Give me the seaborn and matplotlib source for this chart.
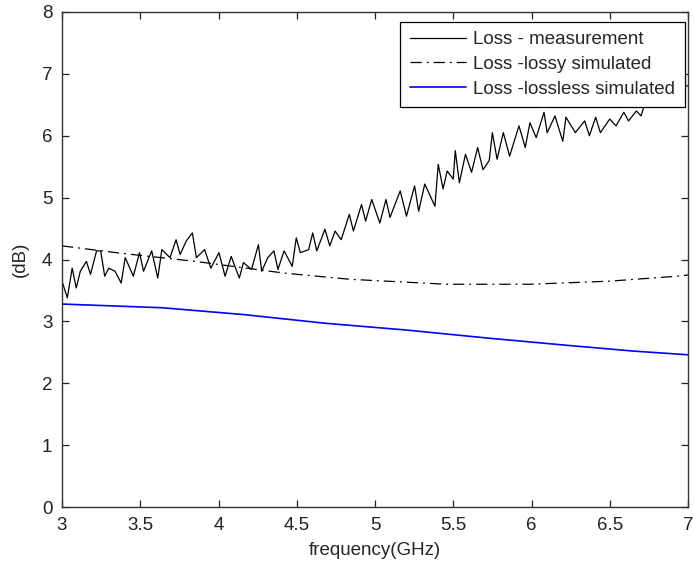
import matplotlib
matplotlib.use("Agg")
import matplotlib.pyplot as plt
import seaborn as sns
import pandas as pd

# Measured loss (dB) vs frequency (GHz)
meas_freq = [3.000, 3.034, 3.065, 3.091, 3.117, 3.156, 3.182, 3.221, 3.247, 3.273,
             3.299, 3.339, 3.378, 3.404, 3.456, 3.495, 3.521, 3.573, 3.612, 3.638,
             3.690, 3.729, 3.755, 3.794, 3.833, 3.859, 3.911, 3.951, 4.003, 4.042,
             4.081, 4.133, 4.159, 4.211, 4.255, 4.276, 4.315, 4.354, 4.380, 4.419,
             4.471, 4.497, 4.523, 4.576, 4.602, 4.628, 4.680, 4.711, 4.745, 4.784,
             4.836, 4.862, 4.914, 4.940, 4.979, 5.031, 5.070, 5.096, 5.161, 5.201,
             5.253, 5.279, 5.318, 5.383, 5.404, 5.435, 5.461, 5.500, 5.513, 5.539,
             5.578, 5.617, 5.656, 5.690, 5.730, 5.750, 5.780, 5.820, 5.860, 5.920,
             5.960, 5.990, 6.030, 6.080, 6.100, 6.150, 6.200, 6.220, 6.280, 6.340,
             6.370, 6.410, 6.440, 6.500, 6.540, 6.590, 6.620, 6.670, 6.700, 6.720,
             6.760, 6.800, 6.850, 6.900, 6.950, 7.000]
meas_loss = [3.65, 3.38, 3.86, 3.54, 3.81, 3.97, 3.76, 4.14, 4.14, 3.73,
             3.86, 3.81, 3.62, 4.03, 3.73, 4.11, 3.81, 4.14, 3.70, 4.16,
             4.03, 4.32, 4.08, 4.30, 4.43, 4.03, 4.16, 3.86, 4.11, 3.73,
             4.05, 3.70, 3.95, 3.84, 4.24, 3.81, 4.03, 4.14, 3.84, 4.14,
             3.89, 4.35, 4.11, 4.16, 4.43, 4.14, 4.49, 4.22, 4.46, 4.32,
             4.73, 4.46, 4.89, 4.62, 4.97, 4.59, 4.97, 4.68, 5.11, 4.70,
             5.19, 4.78, 5.22, 4.86, 5.54, 5.14, 5.43, 5.30, 5.76, 5.24,
             5.70, 5.41, 5.81, 5.45, 5.60, 6.05, 5.62, 6.05, 5.67, 6.16,
             5.81, 6.21, 5.97, 6.38, 6.05, 6.32, 5.91, 6.30, 6.05, 6.24,
             6.00, 6.30, 6.05, 6.27, 6.16, 6.38, 6.24, 6.40, 6.32, 6.48,
             6.60, 6.50, 6.75, 6.65, 6.85, 6.80]

# Lossy simulation
lossy_freq = [3.00, 3.38, 3.85, 4.42, 4.84, 5.46, 5.99, 6.50, 6.93, 7.00]
lossy_loss = [4.22, 4.10, 3.97, 3.78, 3.68, 3.60, 3.60, 3.65, 3.73, 3.75]

# Lossless simulation
lossless_freq = [3.00, 3.64, 4.16, 4.68, 5.20, 5.72, 6.24, 6.65, 7.00]
lossless_loss = [3.28, 3.22, 3.11, 2.97, 2.86, 2.73, 2.61, 2.52, 2.46]

labels = ["Loss - measurement", "Loss -lossy simulated", "Loss -lossless simulated"]
x_ticks = [3, 3.5, 4, 4.5, 5, 5.5, 6, 6.5, 7]
x_tick_labels = ["3", "3.5", "4", "4.5", "5", "5.5", "6", "6.5", "7"]
y_ticks = [0, 1, 2, 3, 4, 5, 6, 7, 8]

sns.set_style("ticks")
plt.rcParams["font.family"] = ["Liberation Sans", "DejaVu Sans"]
plt.rcParams["font.size"] = 13.5

fig = plt.figure(figsize=(6.94, 5.65), dpi=100)
ax = fig.add_axes([62 / 694, 1 - 507 / 565, (688 - 62) / 694, (507 - 12) / 565])

df_m = pd.DataFrame({"f": meas_freq, "v": meas_loss})
df_l = pd.DataFrame({"f": lossy_freq, "v": lossy_loss})
df_ll = pd.DataFrame({"f": lossless_freq, "v": lossless_loss})

dashdot = [9, 4, 1.5, 4]
sns.lineplot(data=df_m, x="f", y="v", ax=ax, color="black", linewidth=0.9,
             label=labels[0], estimator=None)
sns.lineplot(data=df_l, x="f", y="v", ax=ax, color="black", linewidth=0.9,
             label=labels[1], estimator=None)
ax.lines[-1].set_dashes(dashdot)
sns.lineplot(data=df_ll, x="f", y="v", ax=ax, color="#0000ff", linewidth=1.2,
             label=labels[2], estimator=None)

ax.set_xlim(3, 7)
ax.set_ylim(0, 8)
ax.set_xticks(x_ticks)
ax.set_xticklabels(x_tick_labels)
ax.set_yticks(y_ticks)
ax.set_xlabel("frequency(GHz)", labelpad=6)
ax.set_ylabel("(dB)", labelpad=9)
ax.tick_params(direction="in", length=5, width=0.9, top=True, right=True,
               colors="#222222", labelcolor="#222222", pad=7)
for s in ax.spines.values():
    s.set_visible(True)
    s.set_color("#333333")
    s.set_linewidth(1.0)

leg = ax.legend(loc="upper right", bbox_to_anchor=(0.995, 0.98), fancybox=False,
                framealpha=1, edgecolor="black", borderpad=0.5, labelspacing=0.4,
                handlelength=3.0, handletextpad=0.4, borderaxespad=0.0)
leg.get_frame().set_linewidth(0.9)
leg.legend_handles[1].set_dashes(dashdot)

fig.savefig("out.png", dpi=100)
